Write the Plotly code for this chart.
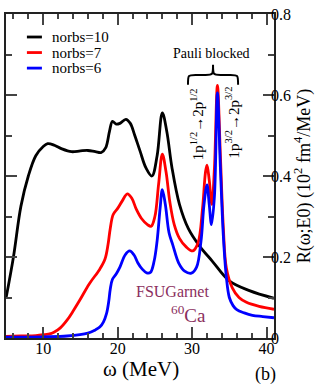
import plotly.graph_objects as go

# --- data ---
x_n10 = [5, 6, 7, 8, 9, 10, 10.6, 11.5, 12.5, 13.8, 15, 16, 17, 17.8, 18.4, 18.9, 19.3, 19.8,
         20.3, 21.1, 21.7, 22.3, 23, 23.8, 24.6, 25.3, 26, 26.6, 27.3, 28.3, 29.5, 31, 32.7,
         35, 37.7, 41]
y_n10 = [0.098, 0.2, 0.325, 0.40, 0.45, 0.473, 0.48, 0.476, 0.467, 0.46, 0.462, 0.463, 0.46,
         0.458, 0.47, 0.51, 0.535, 0.528, 0.53, 0.54, 0.53, 0.5, 0.462, 0.42, 0.40, 0.45,
         0.556, 0.51, 0.42, 0.33, 0.27, 0.227, 0.19, 0.141, 0.117, 0.098]

x_n7 = [5, 7, 9, 10, 11, 11.5, 12.3, 13.2, 14, 14.9, 16.2, 17.6, 18.3, 18.7, 19.0, 19.4, 20.0,
        20.6, 21.3, 21.9, 22.5, 23.2, 24.0, 24.5, 25.0, 25.5, 26.0, 26.5, 27.0, 27.6, 28.3,
        29.2, 30.1, 30.8, 31.4, 31.8, 32.0, 32.3, 32.65, 33.0, 33.4, 33.8, 34.2, 34.6, 35.4,
        36.3, 37.3, 39, 41]
y_n7 = [0.004, 0.005, 0.006, 0.008, 0.011, 0.015, 0.025, 0.044, 0.066, 0.093, 0.134, 0.17,
        0.195, 0.23, 0.27, 0.305, 0.32, 0.338, 0.356, 0.345, 0.318, 0.295, 0.28, 0.276, 0.3,
        0.38, 0.454, 0.41, 0.337, 0.28, 0.246, 0.225, 0.215, 0.235, 0.32, 0.41, 0.427, 0.39,
        0.33, 0.42, 0.624, 0.45, 0.27, 0.173, 0.124, 0.1, 0.088, 0.078, 0.071]

x_n6 = [5, 10, 13.2, 16, 17, 17.6, 18.1, 18.5, 18.8, 19.0, 19.3, 19.8, 20.3, 21.0, 21.6, 22.2,
        22.7, 23.3, 23.9, 24.4, 24.9, 25.3, 25.7, 26.0, 26.4, 26.9, 27.4, 28.2, 29.0, 29.9,
        30.6, 31.2, 31.6, 32.0, 32.3, 32.6, 33.0, 33.4, 33.8, 34.2, 34.6, 35.0, 35.5, 36.0,
        37, 38.1, 39.5, 41]
y_n6 = [0.002, 0.003, 0.005, 0.012, 0.02, 0.027, 0.04, 0.06, 0.09, 0.12, 0.145, 0.158, 0.175,
        0.205, 0.215, 0.205, 0.186, 0.17, 0.161, 0.162, 0.19, 0.24, 0.32, 0.366, 0.33, 0.26,
        0.23, 0.185, 0.165, 0.16, 0.175, 0.24, 0.33, 0.378, 0.33, 0.28, 0.35, 0.605, 0.42,
        0.25, 0.15, 0.10, 0.08, 0.07, 0.062, 0.056, 0.053, 0.05]

series_names = ["norbs=10", "norbs=7", "norbs=6"]
series_colors = ["black", "#ff0000", "#0000ff"]

FONT = "Liberation Serif"


def label(fig, x, y, text, size, color='black', angle=0):
    fig.add_annotation(x=x, y=y, xref='paper', yref='paper', text=text,
                       showarrow=False, xanchor='center', yanchor='middle',
                       textangle=angle,
                       font=dict(family=FONT, size=size, color=color))


fig = go.Figure()

for xs, ys, name, col in zip([x_n10, x_n7, x_n6], [y_n10, y_n7, y_n6], series_names, series_colors):
    fig.add_trace(go.Scatter(
        x=xs, y=ys, name=name, mode='lines',
        line=dict(color=col, width=2.8, shape='spline', smoothing=1.0),
        showlegend=False
    ))

# hand-drawn legend (short line samples like the original)
for i, (name, col) in enumerate(zip(series_names, series_colors)):
    yp = 0.929 - i * 0.048
    fig.add_shape(type='line', xref='paper', yref='paper',
                  x0=0.078, x1=0.134, y0=yp, y1=yp,
                  line=dict(color=col, width=2.8))
    fig.add_annotation(x=0.164, y=yp, xref='paper', yref='paper', text=name,
                       showarrow=False, xanchor='left', yanchor='middle',
                       font=dict(family=FONT, size=15, color='black'))

# "Pauli blocked" with a curly brace over the two transitions
label(fig, 0.765, 0.877, "Pauli blocked", 14)
bx0, bx1, bxm, q = 0.679, 0.866, 0.7725, 0.028
ye, yb, yc = 0.782, 0.812, 0.843
brace = (f"M{bx0},{ye} C{bx0},{yb} {bx0},{yb} {bx0+q},{yb} L{bxm-q},{yb} "
         f"C{bxm},{yb} {bxm},{yb} {bxm},{yc} C{bxm},{yb} {bxm},{yb} {bxm+q},{yb} "
         f"L{bx1-q},{yb} C{bx1},{yb} {bx1},{yb} {bx1},{ye}")
fig.add_shape(type='path', xref='paper', yref='paper', path=brace,
              line=dict(color='black', width=2))

label(fig, 0.713, 0.66, "1p<sup>1/2</sup>\u21922p<sup>1/2</sup>", 15, angle=-90)
label(fig, 0.843, 0.665, "1p<sup>3/2</sup>\u21922p<sup>3/2</sup>", 15, angle=-90)
label(fig, 0.62, 0.142, "FSUGarnet", 16, color='#8b2f5e')
label(fig, 0.68, 0.075, "<sup>60</sup>Ca", 19, color='#8b2f5e')
label(fig, 0.967, -0.114, "(b)", 18)
label(fig, 0.504, -0.096, "\u03c9 (MeV)", 21)

fig.update_xaxes(
    range=[5, 41], dtick=10, tick0=0, ticks='inside', ticklen=11, tickwidth=1.5,
    minor=dict(dtick=2, tick0=0, ticks='inside', ticklen=5, tickwidth=1.5),
    showline=True, linecolor='#222', linewidth=1.8, mirror='ticks',
    showgrid=False, zeroline=False, automargin=False, ticklabelstandoff=-5,
    tickfont=dict(family=FONT, size=16, color='black')
)
fig.update_yaxes(
    range=[0, 0.8], dtick=0.2, side='right', ticks='inside', ticklen=11, tickwidth=1.5,
    minor=dict(dtick=0.1, ticks='inside', ticklen=6, tickwidth=1.5),
    showline=True, linecolor='#222', linewidth=1.8, mirror='ticks',
    showgrid=False, zeroline=False, automargin=False, ticklabelstandoff=-8,
    tickfont=dict(family=FONT, size=16, color='black'),
    title=dict(text="R(\u03c9;E0) (10<sup>2</sup> fm<sup>4</sup>/MeV)",
               font=dict(family=FONT, size=18, color='black'), standoff=6)
)

fig.update_layout(
    width=332, height=387,
    margin=dict(l=6, r=58, t=14, b=49),
    plot_bgcolor='white', paper_bgcolor='white',
    font=dict(family=FONT),
    showlegend=False
)

fig.write_html("out.html", config={'displayModeBar': False},
               post_script="document.body.style.margin='0px';")
